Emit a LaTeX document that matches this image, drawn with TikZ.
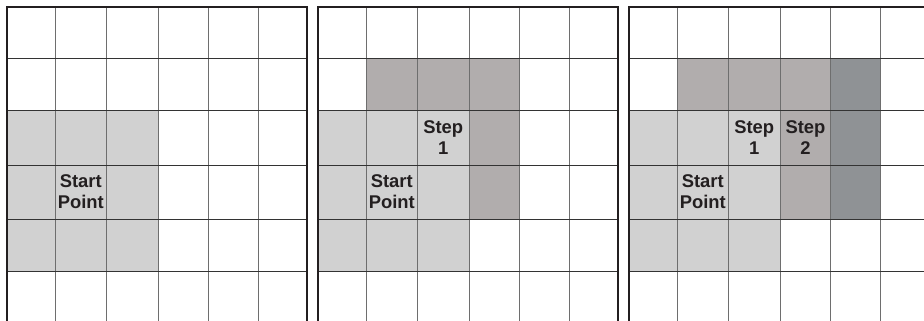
\documentclass[tikz,border=0pt]{standalone}
\usepackage{fontspec}
\setmainfont{Liberation Sans}
\definecolor{lightc}{HTML}{D1D1D1}
\definecolor{midc}{HTML}{B1ADAD}
\definecolor{darkc}{HTML}{8F9295}
\definecolor{inkc}{HTML}{231F20}
\definecolor{hline}{HTML}{333333}
\definecolor{vline}{HTML}{6E6E6E}
\def\colx{{0,48.5,99,151.5,201.5,251.5,300}}
\def\rowy{{7,58.5,110,165,219,271,322}}
\newcommand\cellfill[4]{%
  \pgfmathsetmacro\xl{#1+\colx[#2]}%
  \pgfmathsetmacro\xr{#1+\colx[#2+1]}%
  \pgfmathsetmacro\yt{\rowy[#3]}%
  \pgfmathsetmacro\yb{\rowy[#3+1]}%
  \fill[#4] (\xl,\yt) rectangle (\xr,\yb);}
\newcommand\celltext[5]{%
  \pgfmathsetmacro\xl{#2+\colx[#3]}%
  \pgfmathsetmacro\xr{#2+\colx[#3+1]}%
  \pgfmathsetmacro\yt{\rowy[#4]}%
  \pgfmathsetmacro\yb{\rowy[#4+1]}%
  \pgfmathsetmacro\xc{(\xl+\xr)/2}%
  \pgfmathsetmacro\yc{(\yt+\yb)/2}%
  \node[lbl] (#1) at (\xc,\yc) {#5};}
\newcommand\panelgrid[1]{%
  \foreach \i in {1,...,5}{%
    \pgfmathsetmacro\xv{#1+\colx[\i]}%
    \draw[gridv] (\xv,7) -- (\xv,330);}
  \foreach \j in {1,...,6}{%
    \pgfmathsetmacro\yh{\rowy[\j]}%
    \draw[gridh] (#1,\yh) -- (#1+300,\yh);}
  \draw[frame] (#1,330) -- (#1,7) -- (#1+300,7) -- (#1+300,330);}
\begin{document}
\begin{tikzpicture}[x=1pt,y=-1pt,
  gridv/.style={draw=vline,line width=1pt},
  gridh/.style={draw=hline,line width=1pt},
  frame/.style={draw=inkc,line width=2.8pt},
  lbl/.style={text=inkc,font=\bfseries\fontsize{18.4}{21}\selectfont,align=center,inner sep=0pt}]
\useasboundingbox (0,0) rectangle (924,321);
\clip (0,0) rectangle (924,321);
\fill[white] (0,0) rectangle (924,321);
% panel fills
\foreach \p in {7,318,629}{%
  \foreach \c in {0,1,2}{\foreach \r in {2,3,4}{\cellfill{\p}{\c}{\r}{lightc}}}}
\foreach \p in {318,629}{%
  \foreach \c in {1,2,3}{\cellfill{\p}{\c}{1}{midc}}
  \cellfill{\p}{3}{2}{midc}
  \cellfill{\p}{3}{3}{midc}}
\foreach \r in {1,2,3}{\cellfill{629}{4}{\r}{darkc}}
% grids
\panelgrid{7}
\panelgrid{318}
\panelgrid{629}
% labels
\celltext{startA}{7}{1}{3}{Start\\Point}
\celltext{startB}{318}{1}{3}{Start\\Point}
\celltext{stepB}{318}{2}{2}{Step\\1}
\celltext{startC}{629}{1}{3}{Start\\Point}
\celltext{stepC}{629}{2}{2}{Step\\1}
\celltext{stepD}{629}{3}{2}{Step\\2}
\end{tikzpicture}
\end{document}
